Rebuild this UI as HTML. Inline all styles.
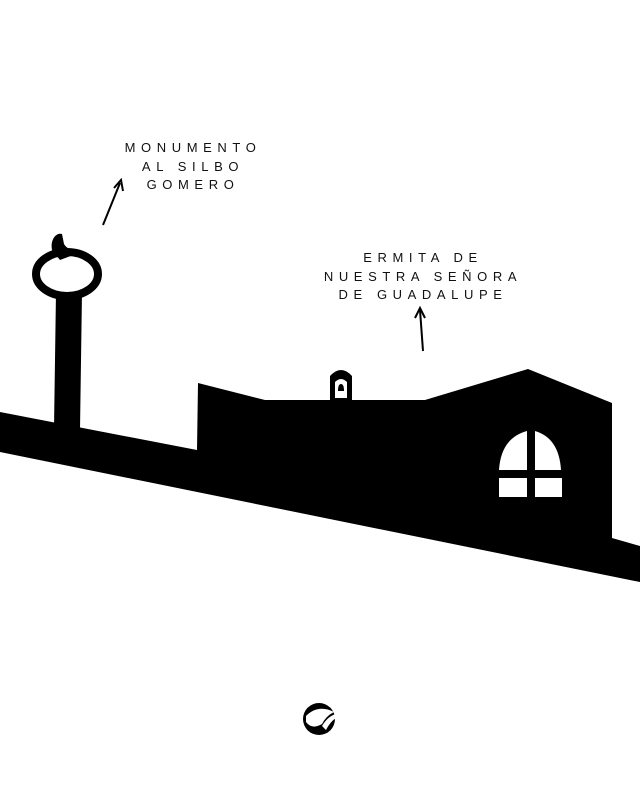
<!DOCTYPE html>
<html><head><meta charset="utf-8"><style>
html,body{margin:0;padding:0;background:#fff;}
body{width:640px;height:800px;position:relative;overflow:hidden;font-family:"Liberation Sans",sans-serif;}
.t{position:absolute;text-align:center;font-size:13px;letter-spacing:5.6px;line-height:18.5px;color:#111;}
</style></head><body>
<div class="t" style="left:93px;top:139px;width:200px;">MONUMENTO<br>AL SILBO<br>GOMERO</div>
<div class="t" style="left:283px;top:249px;width:280px;">ERMITA DE<br>NUESTRA SEÑORA<br>DE GUADALUPE</div>
<svg width="640" height="800" style="position:absolute;left:0;top:0">
<g stroke="#000" stroke-width="2" fill="none">
<line x1="103" y1="225" x2="120" y2="183"/>
<polyline points="114,188 121,180 123,191"/>
<line x1="423" y1="351" x2="420" y2="310"/>
<polyline points="415,318 420,308 425,318"/>
</g>
<polygon points="0,412 197,450 198,383 265,400 425,400 528,369 612,403 612,538 640,546 640,582 0,452" fill="#000"/>
<path d="M56,292 L82,292 L80,430 L54,428 Z" fill="#000"/>
<ellipse cx="67" cy="274" rx="31" ry="22" fill="none" stroke="#000" stroke-width="8"/>
<path d="M52,250 C50,240 56,232 62,234 L64,244 C66,248 72,250 76,254 L60,260 Z" fill="#000"/>
<path d="M330,400 L330,376 Q341,364 352,376 L352,400 Z" fill="#000"/>
<path d="M335,398 L335,382 Q341,376 347,382 L347,398 Z" fill="#fff"/>
<path d="M338,391 Q338,384 341,384 Q344,384 344,391 Z" fill="#000"/>
<path d="M499,470 Q501,438 527,431 L527,470 Z" fill="#fff"/>
<path d="M535,431 Q559,438 561,470 L535,470 Z" fill="#fff"/>
<rect x="499" y="478" width="28" height="19" fill="#fff"/>
<rect x="535" y="478" width="27" height="19" fill="#fff"/>
<circle cx="319" cy="719" r="16" fill="#000"/>
<path d="M306,716 Q318,704 334,712 Q326,716 322,724 Q312,730 306,722 Z" fill="#fff"/>
<path d="M322,726 Q328,716 336,714 L336,718 Q330,722 326,730 Z" fill="#fff"/>
</svg>
</body></html>
